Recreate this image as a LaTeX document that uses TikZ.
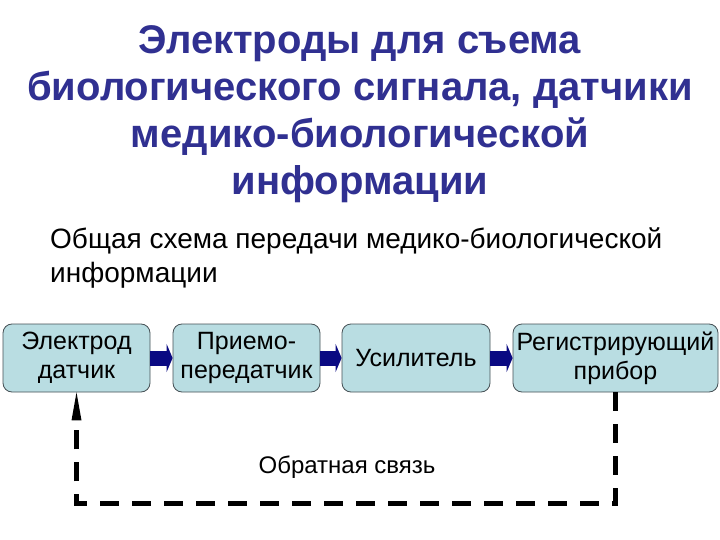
\documentclass[tikz,border=0pt]{standalone}
\usepackage{fontspec}
\setmainfont{Liberation Sans}
\usetikzlibrary{arrows.meta,calc}
\definecolor{titleblue}{RGB}{48,48,145}
\definecolor{boxfill}{RGB}{185,221,226}
\definecolor{boxline}{RGB}{70,80,85}
\definecolor{navyarrow}{RGB}{10,10,130}
\begin{document}
\begin{tikzpicture}[x=1pt,y=-1pt,
  stage/.style={draw=boxline,line width=0.8pt,fill=boxfill,rounded corners=9pt,
    minimum height=68pt,inner sep=2pt,align=center,font=\fontsize{25}{29}\selectfont},
  flowarrow/.style={draw=navyarrow,line width=15pt,-{Triangle[length=6pt,width=28pt]}},
  feedback/.style={draw=black,line width=5pt,dash pattern=on 19pt off 13pt},
  heading/.style={align=center,text=titleblue,font=\fontsize{40}{47}\selectfont\bfseries},
  subheading/.style={align=left,anchor=north west,inner sep=0pt,font=\fontsize{28}{34}\selectfont}]
\useasboundingbox (0,0) rectangle (720,540);
\fill[white] (0,0) rectangle (720,540);
\node[heading] (title) at (360,114) {Электроды для съема\\биологического сигнала, датчики\\медико-биологической\\информации};
\node[subheading] (sub) at (50,228) {Общая схема передачи медико-биологической\\информации};
\node[stage,minimum width=147pt] (a) at (76.5,358) {Электрод\\датчик};
\node[stage,minimum width=147pt] (b) at (246.5,358) {Приемо-\\передатчик};
\node[stage,minimum width=148pt] (c) at (416,358) {Усилитель};
\node[stage,minimum width=205pt] (d) at (615.5,358) {Регистрирующий\\прибор};
\draw[flowarrow] (a.east) -- (b.west);
\draw[flowarrow] (b.east) -- (c.west);
\draw[flowarrow] (c.east) -- (d.west);
\coordinate (fbR) at ($(d.south)+(0,111)$);
\coordinate (fbL) at ($(a.south)+(0,111)$);
\draw[feedback] (d.south) -- (fbR) -- (fbL) -- ($(a.south)+(0,30)$);
\fill[black] (a.south) -- ($(a.south)+(-5,28)$) -- ($(a.south)+(5,28)$) -- cycle;
\node[font=\fontsize{24}{28}\selectfont] (fbtext) at (347,467) {Обратная связь};
\end{tikzpicture}
\end{document}
